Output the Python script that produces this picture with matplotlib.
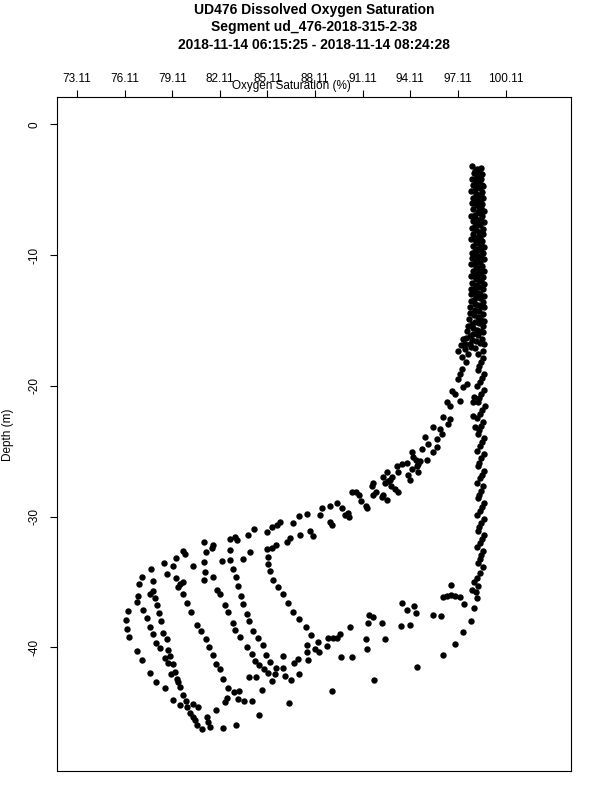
import matplotlib
matplotlib.use("Agg")
import matplotlib.pyplot as plt

plt.rcParams["font.family"] = ["Liberation Sans", "DejaVu Sans"]
plt.rcParams["axes.unicode_minus"] = False

TITLE = ["UD476 Dissolved Oxygen Saturation",
         "Segment ud_476-2018-315-2-38",
         "2018-11-14 06:15:25 - 2018-11-14 08:24:28"]
X_LABEL = "Oxygen Saturation (%)"
Y_LABEL = "Depth (m)"
X_TICKS = [73.11, 76.11, 79.11, 82.11, 85.11, 88.11, 91.11, 94.11, 97.11, 100.11]
X_TICK_LABELS = ["73.11", "76.11", "79.11", "82.11", "85.11",
                 "88.11", "91.11", "94.11", "97.11", "100.11"]
Y_TICKS = [0, -10, -20, -30, -40]
Y_TICK_LABELS = ["0", "-10", "-20", "-30", "-40"]

# --- mixed layer column (several passes) ---
upper_depth_a = [-3.2, -3.7, -4.2, -4.6, -5.1, -5.6, -6.0, -6.5, -7.0, -7.4, -7.9, -8.4, -8.8, -9.3, -9.8,
                 -10.2, -10.7, -11.2, -11.6, -12.1, -12.6, -13.0, -13.5, -14.0, -14.4, -14.9, -15.4, -15.8, -16.3, -16.8]
upper_o2_a = [98.02, 98.10, 97.98, 98.05, 97.96, 98.08, 97.99, 98.04, 97.95, 98.06, 97.97, 98.03, 97.95, 98.07, 97.98,
              98.02, 97.96, 98.05, 97.94, 98.01, 97.96, 97.90, 97.93, 97.86, 97.88, 97.80, 97.75, 97.70, 97.62, 97.55]

upper_depth_b = [-3.4, -3.9, -4.4, -4.8, -5.3, -5.8, -6.2, -6.7, -7.2, -7.6, -8.1, -8.6, -9.0, -9.5, -10.0,
                 -10.4, -10.9, -11.4, -11.8, -12.3, -12.8, -13.2, -13.7, -14.2, -14.6, -15.1, -15.6, -16.0, -16.5, -17.0]
upper_o2_b = [98.30, 98.38, 98.27, 98.35, 98.25, 98.33, 98.28, 98.36, 98.24, 98.31, 98.27, 98.34, 98.22, 98.30, 98.26,
              98.33, 98.25, 98.29, 98.22, 98.28, 98.20, 98.25, 98.18, 98.21, 98.12, 98.15, 98.05, 98.08, 97.98, 97.92]

upper_depth_c = [-3.3, -3.8, -4.2, -4.7, -5.2, -5.6, -6.1, -6.6, -7.0, -7.5, -8.0, -8.4, -8.9, -9.4, -9.8, -10.3,
                 -10.8, -11.2, -11.7, -12.2, -12.6, -13.1, -13.6, -14.0, -14.5, -15.0, -15.4, -15.9, -16.4, -16.8, -17.3]
upper_o2_c = [98.55, 98.62, 98.58, 98.66, 98.60, 98.70, 98.63, 98.72, 98.65, 98.74, 98.66, 98.71, 98.64, 98.75, 98.67, 98.72,
              98.65, 98.74, 98.68, 98.73, 98.66, 98.75, 98.69, 98.72, 98.66, 98.74, 98.68, 98.71, 98.65, 98.72, 98.66]

upper_depth_d = [-3.5, -4.0, -4.5, -4.9, -5.4, -5.9, -6.3, -6.8, -7.3, -7.7, -8.2, -8.7, -9.1, -9.6, -10.1,
                 -10.5, -11.0, -11.5, -11.9, -12.4, -12.9, -13.3, -13.8, -14.3, -14.7, -15.2, -15.7, -16.1, -16.6, -17.1]
upper_o2_d = [98.45, 98.50, 98.42, 98.48, 98.44, 98.52, 98.43, 98.49, 98.41, 98.50, 98.44, 98.47, 98.40, 98.51, 98.43,
              98.48, 98.42, 98.50, 98.41, 98.46, 98.40, 98.49, 98.38, 98.45, 98.36, 98.42, 98.30, 98.35, 98.25, 98.20]

upper_depth_e = [-3.6, -4.1, -4.6, -5.0, -5.5, -6.0, -6.4, -6.9, -7.4, -7.8, -8.3, -8.8, -9.2, -9.7, -10.2,
                 -10.6, -11.1, -11.6, -12.0, -12.5, -13.0, -13.4, -13.9, -14.4, -14.8, -15.3, -15.8, -16.2, -16.7]
upper_o2_e = [98.15, 98.22, 98.60, 98.18, 98.55, 98.14, 98.58, 98.20, 98.56, 98.16, 98.60, 98.18, 98.54, 98.15, 98.58,
              98.19, 98.55, 98.12, 98.58, 98.17, 98.52, 98.10, 98.56, 98.05, 98.50, 97.98, 98.55, 97.85, 98.50]

# --- thermocline (descending branch) ---
cline_o2 = [97.87, 97.43, 97.30, 97.56, 97.11, 97.74, 97.37, 97.62, 97.37, 97.24, 97.11, 97.68, 97.43, 96.74,
            96.93, 97.24, 96.42, 96.61, 96.17, 96.61, 96.48, 95.98, 95.54, 96.11, 95.79, 95.04, 95.22, 95.79,
            95.54, 94.85, 94.22, 95.16, 94.72, 94.28, 94.47, 94.59, 93.90, 93.59, 93.27, 94.53, 94.22, 94.59,
            93.96, 94.09, 93.33, 92.96, 92.64, 92.70, 92.39, 92.83, 92.52, 92.89, 93.15, 93.33, 91.76, 91.70,
            91.95, 91.76, 92.39, 92.33, 92.64, 90.69, 90.88, 90.44, 91.00, 91.32, 91.38, 89.49, 89.81, 90.18,
            90.25, 89.99, 89.05, 88.55, 88.42, 89.05, 89.18, 87.60, 87.10, 86.72, 87.16, 87.79, 87.98, 85.90,
            85.71, 85.40, 86.53, 86.34]
cline_depth = [-16.82, -16.43, -16.89, -17.20, -17.35, -17.58, -17.81, -18.20, -18.73, -19.12, -19.50, -19.88,
               -20.11, -20.42, -20.65, -21.18, -21.26, -21.57, -22.41, -22.56, -22.95, -23.33, -23.17, -23.71,
               -24.09, -23.94, -24.48, -24.71, -25.09, -24.86, -25.09, -25.63, -25.78, -25.47, -25.63, -26.01,
               -25.86, -26.01, -26.16, -26.16, -26.39, -26.62, -26.78, -27.23, -26.55, -27.00, -26.62, -27.31,
               -26.93, -27.16, -27.39, -27.69, -27.92, -28.08, -27.39, -27.69, -28.08, -28.31, -28.31, -28.46,
               -28.69, -28.15, -28.38, -28.15, -28.84, -29.15, -29.30, -28.92, -29.30, -29.69, -29.99, -29.84,
               -29.15, -29.30, -29.84, -30.38, -30.61, -29.76, -29.92, -30.45, -31.37, -31.06, -31.45, -30.38,
               -30.61, -30.76, -31.60, -31.91]

# --- well-oxygenated column below the mixed layer ---
right_depth_1 = [-17.58, -18.20, -18.81, -19.42, -20.03, -20.65, -21.26, -21.87, -22.49, -23.10, -23.71, -24.32,
                 -24.94, -25.55, -26.16, -26.78, -27.39, -28.00, -28.61, -29.23, -29.84, -30.45, -31.06, -31.68,
                 -32.29, -32.90, -33.52]
right_o2_1 = [98.40, 98.55, 98.35, 98.60, 98.30, 98.55, 98.38, 98.62, 98.33, 98.58, 98.36, 98.63, 98.32, 98.57,
              98.37, 98.62, 98.30, 98.58, 98.35, 98.62, 98.31, 98.56, 98.38, 98.60, 98.33, 98.55, 98.40]
right_depth_2 = [-17.89, -18.50, -19.12, -19.73, -20.34, -20.95, -21.57, -22.18, -22.79, -23.40, -24.02, -24.63,
                 -25.24, -25.86, -26.47, -27.08, -27.69, -28.31, -28.92, -29.53, -30.15, -30.76, -31.37, -31.98,
                 -32.60, -33.21, -33.82]
right_o2_2 = [98.70, 98.45, 98.75, 98.48, 98.72, 98.44, 98.78, 98.50, 98.70, 98.46, 98.76, 98.48, 98.72, 98.42,
              98.75, 98.47, 98.70, 98.44, 98.77, 98.49, 98.72, 98.45, 98.74, 98.47, 98.70, 98.50, 98.66]
right_extra_o2 = [98.06, 98.06, 98.18, 98.12]
right_extra_depth = [-21.26, -22.33, -23.17, -20.88]

# --- deep excursions (yo-yo loops) ---
deep_upper_o2 = [84.26, 83.07, 83.19, 82.75, 83.88, 85.08, 81.11, 81.68, 81.62, 81.24, 79.79, 79.92, 79.35, 78.59,
                 79.16, 80.42, 81.11, 82.25, 82.75, 82.75, 84.01, 85.08, 85.40, 85.65, 83.57, 85.14, 85.14, 85.27,
                 77.77, 77.21, 78.78, 79.35, 77.90, 79.79, 79.60, 79.47, 81.18, 81.68, 81.11, 77.02, 77.90, 77.71,
                 79.79, 76.95, 76.89, 78.03, 78.15, 80.04, 77.27, 78.28, 80.29, 81.93, 82.12, 82.44, 82.62, 76.32,
                 76.20, 77.52, 78.40, 76.26, 80.67, 80.92, 77.71, 77.90, 78.53, 76.39, 81.24, 78.78, 82.94, 83.13,
                 85.46, 83.25, 85.77, 86.09, 83.44, 86.40, 83.57, 86.72, 83.82, 82.94, 87.10, 83.95, 87.54, 83.07,
                 84.20, 87.85, 83.38, 84.51]
deep_upper_depth = [-30.91, -31.52, -31.75, -31.68, -31.37, -31.14, -31.91, -32.14, -32.37, -32.67, -32.60, -32.83,
                    -33.13, -33.52, -33.75, -33.75, -33.44, -33.36, -32.52, -33.29, -32.67, -32.44, -32.37, -32.14,
                    -33.21, -33.06, -33.59, -34.13, -33.98, -34.59, -34.36, -34.66, -34.89, -34.97, -35.12, -35.35,
                    -34.21, -34.59, -34.82, -35.12, -35.66, -35.89, -35.89, -36.04, -36.50, -36.20, -36.73, -36.58,
                    -37.12, -37.35, -37.27, -35.58, -35.89, -36.73, -37.27, -37.19, -37.88, -37.73, -37.96, -38.57,
                    -38.27, -38.72, -38.42, -38.95, -38.88, -39.18, -39.34, -39.34, -33.98, -34.59, -34.82, -35.28,
                    -35.35, -35.89, -36.04, -36.58, -36.66, -37.27, -37.42, -38.11, -37.81, -37.96, -38.42, -38.65,
                    -38.72, -39.03, -39.18, -39.26]

deep_lower_o2 = [78.09, 78.34, 78.84, 76.89, 78.97, 78.66, 77.21, 78.84, 79.16, 79.29, 79.03, 77.71, 79.41, 79.47,
                 78.09, 79.60, 78.66, 79.79, 79.98, 79.16, 79.60, 80.04, 80.42, 80.73, 80.23, 80.42, 80.55, 80.67,
                 80.99, 81.30, 81.36, 81.49, 81.87, 82.44, 82.56, 82.31, 82.62, 81.43, 81.68, 81.87, 82.12, 82.31,
                 83.82, 84.83, 84.14, 85.02, 84.33, 85.27, 84.58, 84.89, 85.14, 85.65, 85.59, 85.40, 86.09, 86.09,
                 86.22, 86.59, 86.78, 87.03, 87.10, 87.66, 87.60, 87.60, 88.29, 88.11, 88.36, 88.86, 83.00, 83.32,
                 83.25, 83.63, 84.14, 83.95, 84.39, 84.77]
deep_lower_depth = [-39.64, -40.03, -40.18, -40.26, -40.64, -40.79, -40.95, -41.18, -41.25, -41.87, -42.02, -41.94,
                    -42.40, -42.63, -42.63, -43.01, -43.09, -43.63, -44.09, -44.01, -44.39, -44.55, -44.32, -44.55,
                    -45.01, -45.31, -45.54, -45.93, -46.23, -45.31, -45.70, -46.08, -44.78, -44.16, -43.86, -42.40,
                    -43.09, -39.95, -40.56, -41.25, -41.64, -46.15, -39.95, -39.80, -40.49, -40.56, -41.02, -41.10,
                    -41.33, -41.64, -41.94, -41.56, -42.02, -42.55, -40.64, -41.56, -42.17, -42.48, -41.18, -40.87,
                    -42.02, -40.95, -40.33, -39.80, -39.57, -40.10, -40.33, -39.87, -43.40, -43.32, -43.93, -44.09,
                    -44.09, -42.25, -42.25, -43.24]

# --- bottom of the oxygenated column and sparse returns ---
return_o2 = [98.50, 98.31, 98.12, 98.37, 97.99, 98.25, 96.67, 96.17, 96.42, 96.67, 96.93, 97.24, 97.49, 98.12,
             98.31, 97.93, 97.43, 96.93, 96.17, 93.59, 93.90, 94.34, 94.47, 95.54, 96.04, 93.52, 94.09, 91.51,
             91.76, 91.44, 92.33, 91.32, 92.52, 91.38, 90.31, 89.68, 89.24, 89.49, 89.74, 90.44, 91.82, 94.53,
             89.18, 88.92, 86.47, 84.58, 83.13]
return_depth = [-34.28, -34.66, -34.97, -35.28, -35.58, -35.74, -35.20, -36.12, -36.04, -35.97, -36.04, -36.12,
                -36.66, -36.96, -36.20, -37.96, -38.80, -39.72, -40.56, -36.58, -37.12, -36.81, -37.35, -37.50,
                -37.58, -38.34, -38.27, -37.50, -37.65, -38.11, -38.11, -39.34, -39.34, -40.10, -38.42, -38.95,
                -39.26, -39.26, -40.72, -40.72, -42.48, -41.48, -43.32, -39.26, -44.24, -45.16, -45.93]

groups = [
    (upper_o2_a, upper_depth_a), (upper_o2_b, upper_depth_b), (upper_o2_c, upper_depth_c),
    (upper_o2_d, upper_depth_d), (upper_o2_e, upper_depth_e),
    (cline_o2, cline_depth),
    (right_o2_1, right_depth_1), (right_o2_2, right_depth_2), (right_extra_o2, right_extra_depth),
    (deep_upper_o2, deep_upper_depth), (deep_lower_o2, deep_lower_depth),
    (return_o2, return_depth),
]

fig = plt.figure(figsize=(6, 8), dpi=100)
ax = fig.add_axes([0.095, 0.03625, 0.8567, 0.8426])

for o2, dep in groups:
    ax.plot(o2, dep, "o", ls="none", color="black", ms=4.6, mew=0)

ax.set_xlim(71.85, 104.23)
ax.set_ylim(-49.45, 2.1)

ax.xaxis.tick_top()
ax.set_xticks(X_TICKS)
ax.set_xticklabels(X_TICK_LABELS)
ax.set_yticks(Y_TICKS)
ax.set_yticklabels(Y_TICK_LABELS, rotation=90, va="center")
ax.tick_params(axis="x", length=5, width=0.8, pad=3.5, labelsize=8.5, direction="out")
ax.tick_params(axis="y", length=5, width=0.8, pad=7, labelsize=8.5, direction="out")
for s in ax.spines.values():
    s.set_linewidth(0.8)

# axis title sits over the tick labels, as in the original
fig.text(291 / 600, 1 - 86 / 800, X_LABEL, ha="center", va="center", fontsize=8.5)
fig.text(8 / 600, 1 - 435 / 800, Y_LABEL, ha="center", va="center", rotation=90, fontsize=8.5)

for i, line in enumerate(TITLE):
    fig.text(314 / 600, 1 - (10 + 17.5 * i) / 800, line, ha="center", va="center",
             fontsize=10, fontweight="bold")

fig.savefig("out.png", dpi=100)
plt.close(fig)
